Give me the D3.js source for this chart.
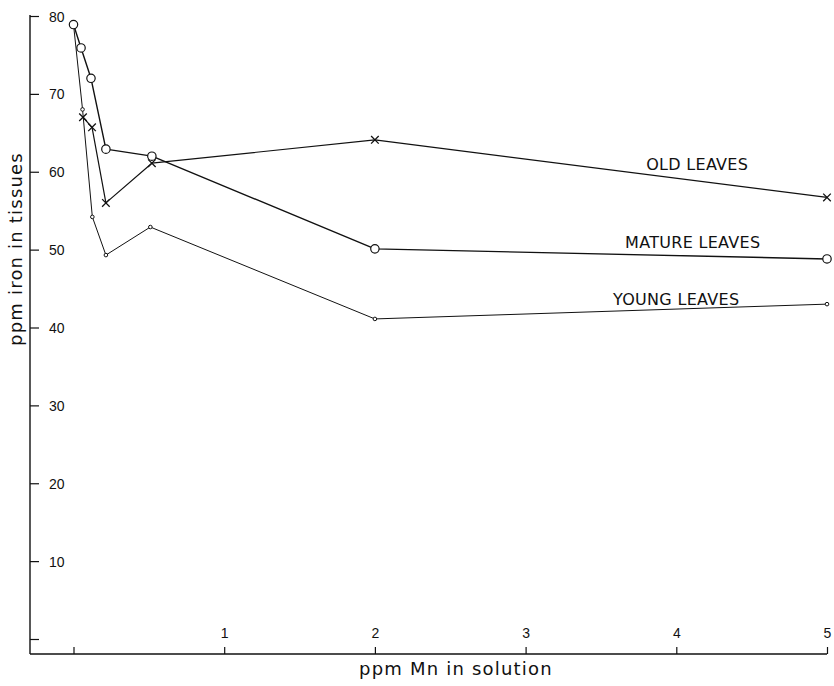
<!DOCTYPE html>
<html>
<head>
<meta charset="utf-8">
<title>ppm iron in tissues</title>
<script src="https://cdn.jsdelivr.net/npm/d3@7"></script>
<style>
  body { margin: 0; background: #fff; }
  svg { display: block; font-family: "DejaVu Sans", sans-serif; }
  .axis text { font-size: 14px; fill: #111; }
  .axis line { stroke: #111; stroke-width: 1.2; }
  .series { fill: none; stroke: #111; stroke-linejoin: round; }
  .leaf-label { font-size: 16px; fill: #111; letter-spacing: 0.3px; }
  .title { font-size: 18px; fill: #111; letter-spacing: 1.2px; }
</style>
</head>
<body>
<script>
// values
var matureMn = [0, 0.05, 0.116, 0.215, 0.52, 2, 5];
var matureFe = [78.9, 75.9, 72, 62.9, 62, 50.1, 48.8];
var youngMn  = [0, 0.06, 0.125, 0.215, 0.51, 2, 5];
var youngFe  = [78.9, 68, 54.2, 49.3, 52.9, 41.1, 43];
var oldMn    = [0.063, 0.123, 0.215, 0.52, 2, 5];
var oldFe    = [67, 65.7, 56, 61.1, 64.1, 56.7];

var xTicks = [0, 1, 2, 3, 4, 5];
var yTicks = [0, 10, 20, 30, 40, 50, 60, 70, 80];

// label anchors, in data units
var labels = [
  {text: "OLD LEAVES", mn: 3.8, fe: 60.2},
  {text: "MATURE LEAVES", mn: 3.66, fe: 50.2},
  {text: "YOUNG LEAVES", mn: 3.58, fe: 42.9}
];

var width = 834, height = 686;
var svg = d3.select("body").append("svg")
    .attr("width", width)
    .attr("height", height);

var axisX = 30, axisY = 654;
var x = d3.scaleLinear().domain([0, 5]).range([73.5, 827]);
var y = d3.scaleLinear().domain([0, 80]).range([639, 16]);

// frame lines
svg.append("line")
  .attr("x1", axisX).attr("x2", axisX)
  .attr("y1", y(80) - 1).attr("y2", axisY)
  .attr("stroke", "#111").attr("stroke-width", 1.4);
svg.append("line")
  .attr("x1", axisX).attr("x2", x(5))
  .attr("y1", axisY).attr("y2", axisY)
  .attr("stroke", "#111").attr("stroke-width", 1.4);

// y axis, ticks pointing inward
var yAxis = d3.axisRight(y)
  .tickValues(yTicks)
  .tickSize(9)
  .tickSizeOuter(0)
  .tickPadding(10)
  .tickFormat(function(d) { return d === 0 ? "" : d; });
var gy = svg.append("g")
  .attr("class", "axis")
  .attr("transform", "translate(" + axisX + ",0)")
  .call(yAxis);
gy.select(".domain").remove();
gy.selectAll("text").attr("dy", "0.36em");

// x axis, ticks pointing up, labels inside the plot
var xAxis = d3.axisTop(x)
  .tickValues(xTicks)
  .tickSize(7)
  .tickSizeOuter(0)
  .tickPadding(9)
  .tickFormat(function(d) { return d === 0 ? "" : d; });
var gx = svg.append("g")
  .attr("class", "axis")
  .attr("transform", "translate(0," + axisY + ")")
  .call(xAxis);
gx.select(".domain").remove();

var line = d3.line()
  .x(function(d) { return x(d[0]); })
  .y(function(d) { return y(d[1]); });

var young = d3.zip(youngMn, youngFe);
var mature = d3.zip(matureMn, matureFe);
var old = d3.zip(oldMn, oldFe);

svg.append("path").attr("class", "series")
  .attr("d", line(young)).attr("stroke-width", 1);
svg.append("path").attr("class", "series")
  .attr("d", line(old)).attr("stroke-width", 1.2);
svg.append("path").attr("class", "series")
  .attr("d", line(mature)).attr("stroke-width", 1.4);

// young: small circles
svg.selectAll(".pt-young")
  .data(young)
  .enter().append("circle")
  .attr("class", "pt-young")
  .attr("cx", function(d) { return x(d[0]); })
  .attr("cy", function(d) { return y(d[1]); })
  .attr("r", 1.8)
  .attr("fill", "#fff").attr("stroke", "#111").attr("stroke-width", 1);

// old: crosses
svg.selectAll(".pt-old")
  .data(old)
  .enter().append("path")
  .attr("class", "pt-old")
  .attr("transform", function(d) { return "translate(" + x(d[0]) + "," + y(d[1]) + ")"; })
  .attr("d", "M-3.8,-3.8L3.8,3.8M-3.8,3.8L3.8,-3.8")
  .attr("stroke", "#111").attr("stroke-width", 1.3);

// mature: open circles
svg.selectAll(".pt-mature")
  .data(mature)
  .enter().append("circle")
  .attr("class", "pt-mature")
  .attr("cx", function(d) { return x(d[0]); })
  .attr("cy", function(d) { return y(d[1]); })
  .attr("r", 4.2)
  .attr("fill", "#fff").attr("stroke", "#111").attr("stroke-width", 1.2);

svg.selectAll(".leaf-label")
  .data(labels)
  .enter().append("text")
  .attr("class", "leaf-label")
  .attr("x", function(d) { return x(d.mn); })
  .attr("y", function(d) { return y(d.fe); })
  .text(function(d) { return d.text; });

// axis titles
svg.append("text")
  .attr("class", "title")
  .attr("text-anchor", "middle")
  .attr("transform", "translate(22,249) rotate(-90)")
  .text("ppm iron in tissues");
svg.append("text")
  .attr("class", "title")
  .attr("text-anchor", "middle")
  .attr("x", 456)
  .attr("y", 675)
  .text("ppm Mn in solution");
</script>
</body>
</html>
